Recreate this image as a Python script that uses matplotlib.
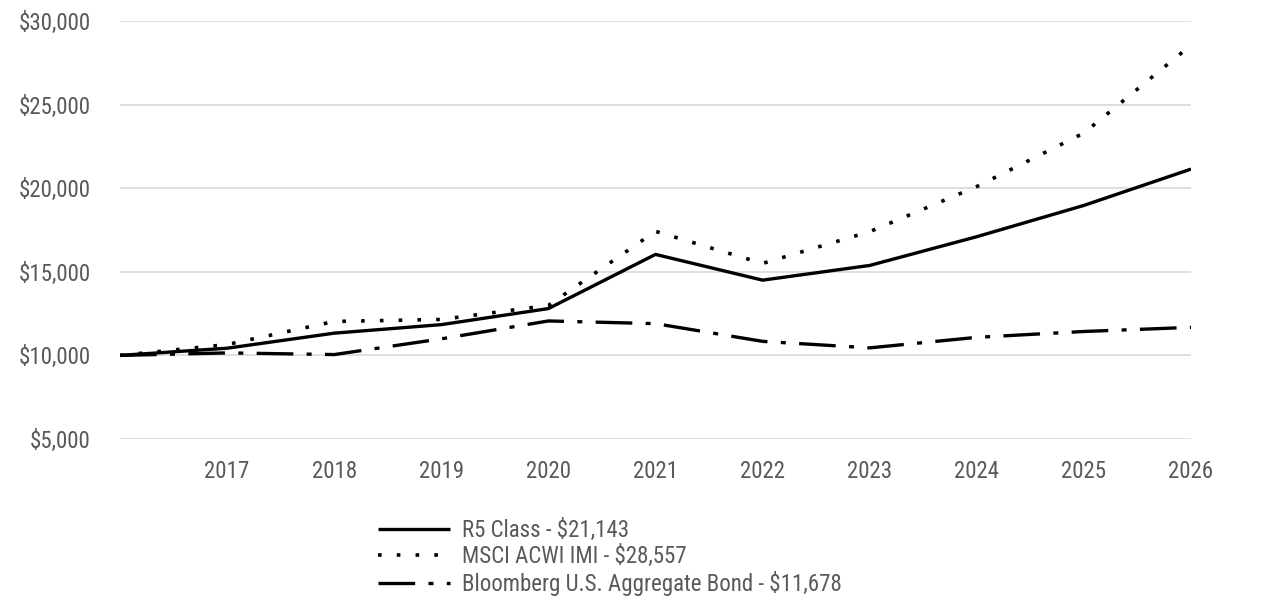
import matplotlib
matplotlib.use("Agg")
import matplotlib.pyplot as plt
from matplotlib.ticker import FuncFormatter

plt.rcParams['font.family'] = ['Roboto Condensed', 'Liberation Sans', 'DejaVu Sans']

years = [2016, 2017, 2018, 2019, 2020, 2021, 2022, 2023, 2024, 2025, 2026]
r5 = [10000, 10430, 11330, 11840, 12800, 16040, 14500, 15380, 17100, 18970, 21143]
msci = [10000, 10650, 12030, 12150, 12990, 17420, 15500, 17400, 20100, 23300, 28557]
bond = [10000, 10150, 10050, 10990, 12060, 11900, 10840, 10450, 11080, 11430, 11678]
labels = ["R5 Class - $21,143", "MSCI ACWI IMI - $28,557",
          "Bloomberg U.S. Aggregate Bond - $11,678"]
tick_years = years[1:]

grey = "#595959"
fs = 16.5
fig = plt.figure(figsize=(12.86, 6.14), dpi=100)
ax = fig.add_axes([120/1286, 1-439/614, (1191-120)/1286, (439-21)/614])

l1, = ax.plot(years, r5, color="black", lw=2.4, solid_capstyle="butt")
l2, = ax.plot(years, msci, color="black", lw=2.6, linestyle=(0, (1, 4.2)))
l3, = ax.plot(years, bond, color="black", lw=2.4, linestyle=(0, (11, 4, 1.5, 4)))

ax.set_xlim(2016, 2026)
ax.set_ylim(5000, 30000)
ax.set_yticks([5000, 10000, 15000, 20000, 25000, 30000])
ax.yaxis.set_major_formatter(FuncFormatter(lambda v, p: f"${v:,.0f}"))
ax.set_xticks(tick_years)
ax.set_xticklabels([str(y) for y in tick_years])
ax.grid(axis="y", color="#d9d9d9", lw=1.2)
ax.set_axisbelow(True)
for s in ax.spines.values():
    s.set_visible(False)
ax.tick_params(axis="both", length=0, labelsize=fs, labelcolor=grey)
ax.tick_params(axis="y", pad=21)
ax.tick_params(axis="x", pad=15)

leg = fig.legend([l1, l2, l3], labels, loc="upper left",
                 bbox_to_anchor=(369/1286, 1-510/614), frameon=False,
                 fontsize=fs, handlelength=3.15, handletextpad=0.5,
                 labelspacing=0.12, borderaxespad=0)
for t in leg.get_texts():
    t.set_color(grey)

fig.savefig("out.png", dpi=100)
